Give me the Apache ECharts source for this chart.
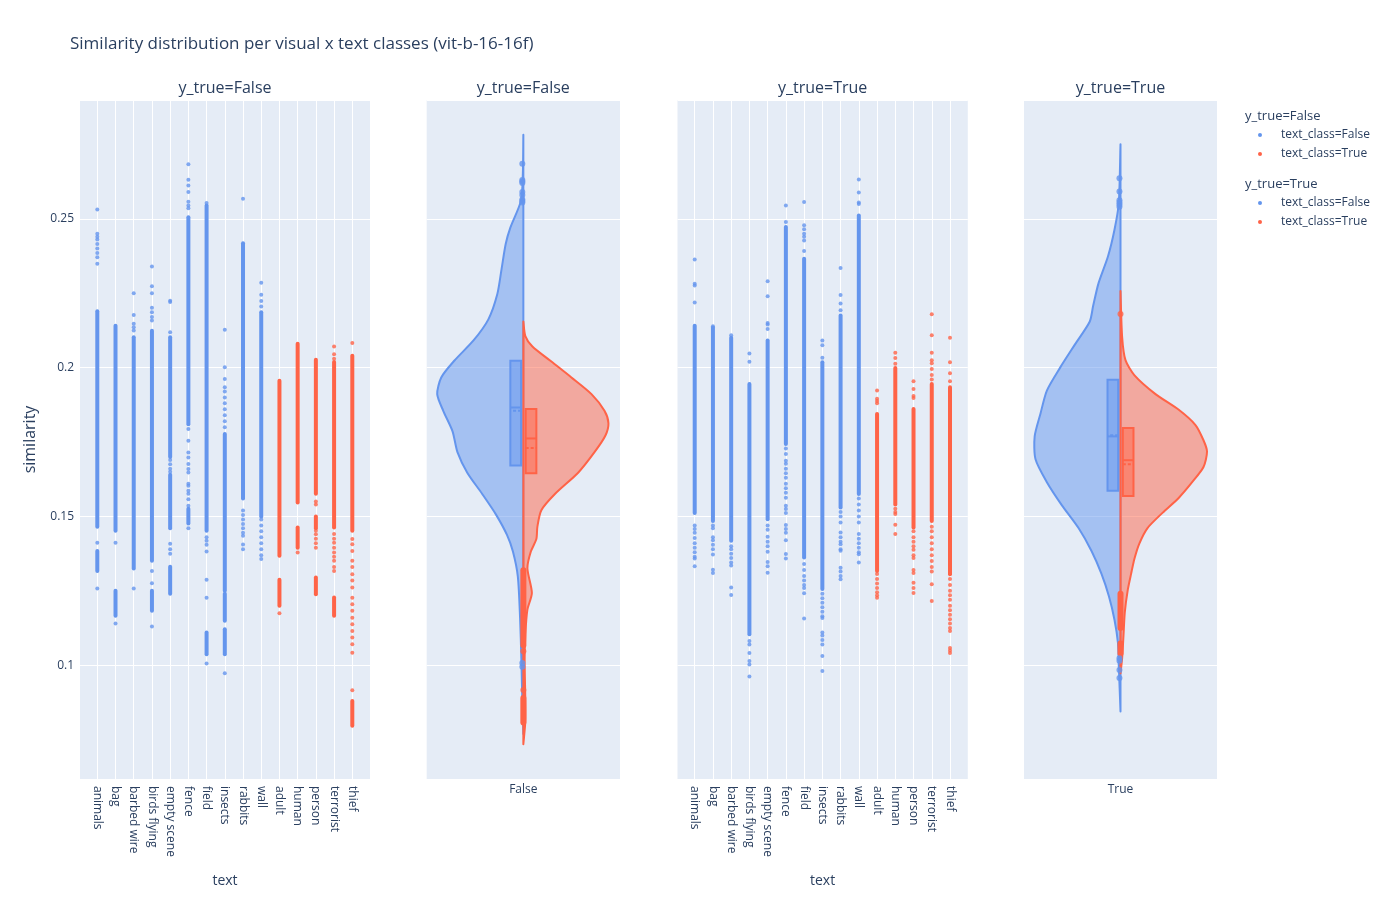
<!DOCTYPE html>
<html>
<head>
<meta charset="utf-8">
<title>Similarity distribution per visual x text classes</title>
<script src="https://cdn.jsdelivr.net/npm/echarts@6/dist/echarts.min.js"></script>
<style>
  html, body { margin: 0; padding: 0; background: #fff; }
  #chart { width: 1400px; height: 900px; }
</style>
</head>
<body>
<div id="chart"></div>
<script>
// ---- data ----
const categories = ['animals', 'bag', 'barbed wire', 'birds flying', 'empty scene', 'fence', 'field',
  'insects', 'rabbits', 'wall', 'adult', 'human', 'person', 'terrorist', 'thief'];
const textClass = [false, false, false, false, false, false, false, false, false, false,
  true, true, true, true, true];

// y_true=False strips: dense stretches [lo, hi] and single points, per category
const segFalse = [
  [[0.1465, 0.2189], [0.1317, 0.1384]],
  [[0.1452, 0.2141], [0.1166, 0.1250]],
  [[0.1325, 0.2102]],
  [[0.1351, 0.2124], [0.1183, 0.1250]],
  [[0.1700, 0.2102], [0.1460, 0.1640], [0.1240, 0.1331]],
  [[0.1810, 0.2505], [0.1476, 0.1526]],
  [[0.1452, 0.2545], [0.1037, 0.1110]],
  [[0.1250, 0.1777], [0.1150, 0.1240], [0.1037, 0.1121]],
  [[0.1560, 0.2418]],
  [[0.1500, 0.2186]],
  [[0.1368, 0.1956], [0.1200, 0.1287]],
  [[0.1547, 0.2080], [0.1395, 0.1463]],
  [[0.1576, 0.2026], [0.1460, 0.1500], [0.1239, 0.1295]],
  [[0.1463, 0.2019], [0.1166, 0.1228]],
  [[0.1452, 0.2040], [0.0797, 0.0880]]
];
const ptsFalse = [
  [0.2531, 0.2450, 0.2440, 0.2430, 0.2415, 0.2400, 0.2385, 0.2371, 0.2349, 0.1412, 0.1258],
  [0.1412, 0.1140],
  [0.2250, 0.2177, 0.2147, 0.2136, 0.2125, 0.1258],
  [0.2340, 0.2273, 0.2250, 0.2201, 0.2186, 0.2170, 0.2158, 0.1317, 0.1276, 0.1130],
  [0.2225, 0.2220, 0.2119, 0.1690, 0.1675, 0.1660, 0.1650, 0.1408, 0.1390, 0.1375],
  [0.2683, 0.2631, 0.2612, 0.2590, 0.2557, 0.2545, 0.2535, 0.1794, 0.1754, 0.1715, 0.1698,
   0.1676, 0.1659, 0.1648, 0.1610, 0.1603, 0.1586, 0.1576, 0.1558, 0.1536, 0.1460],
  [0.2553, 0.1430, 0.1418, 0.1405, 0.1382, 0.1287, 0.1227, 0.1006],
  [0.2127, 0.2001, 0.1962, 0.1934, 0.1920, 0.1900, 0.1880, 0.1860, 0.1840, 0.1820, 0.1800, 0.0973],
  [0.2567, 0.1520, 0.1505, 0.1490, 0.1475, 0.1460, 0.1445, 0.1435, 0.1406, 0.1390],
  [0.2285, 0.2245, 0.2224, 0.2205, 0.1490, 0.1470, 0.1450, 0.1430, 0.1410, 0.1390, 0.1370, 0.1357],
  [0.1175],
  [0.1379],
  [0.1550, 0.1540, 0.1452, 0.1440, 0.1425, 0.1410, 0.1395],
  [0.2071, 0.2045, 0.2030, 0.1441, 0.1425, 0.1412, 0.1395, 0.1379, 0.1365, 0.1351, 0.1330, 0.1317],
  [0.2083, 0.1424, 0.1407, 0.1384, 0.1351, 0.1330, 0.1306, 0.1285, 0.1261, 0.1227, 0.1205,
   0.1183, 0.1160, 0.1138, 0.1115, 0.1093, 0.1071, 0.1042, 0.0916]
];

// y_true=True strips
const segTrue = [
  [[0.1512, 0.2141]],
  [[0.1485, 0.2135]],
  [[0.1418, 0.2100]],
  [[0.1104, 0.1945]],
  [[0.1491, 0.2091]],
  [[0.1743, 0.2472]],
  [[0.1362, 0.2366]],
  [[0.1256, 0.2018]],
  [[0.1530, 0.2175]],
  [[0.1575, 0.2511]],
  [[0.1317, 0.1844]],
  [[0.1540, 0.1999]],
  [[0.1463, 0.1861]],
  [[0.1485, 0.1945]],
  [[0.1306, 0.1934]]
];
const ptsTrue = [
  [0.2363, 0.2282, 0.2276, 0.2219, 0.1470, 0.1458, 0.1445, 0.1428, 0.1410, 0.1395, 0.1380, 0.1365, 0.1359, 0.1333],
  [0.2139, 0.1470, 0.1460, 0.1430, 0.1420, 0.1405, 0.1390, 0.1372, 0.1321, 0.1310],
  [0.2109, 0.1400, 0.1390, 0.1375, 0.1360, 0.1345, 0.1335, 0.1261, 0.1236],
  [0.2047, 0.2020, 0.1082, 0.1070, 0.1041, 0.1014, 0.1003, 0.0962],
  [0.2290, 0.2240, 0.2150, 0.2145, 0.2130, 0.1470, 0.1455, 0.1432, 0.1415, 0.1400, 0.1381, 0.1347, 0.1333, 0.1311],
  [0.2545, 0.2489, 0.1728, 0.1710, 0.1687, 0.1677, 0.1660, 0.1645, 0.1630, 0.1610, 0.1595, 0.1580,
   0.1563, 0.1536, 0.1525, 0.1512, 0.1471, 0.1458, 0.1445, 0.1420, 0.1374, 0.1359],
  [0.2556, 0.2478, 0.2465, 0.2450, 0.2440, 0.2427, 0.2392, 0.1340, 0.1320, 0.1300, 0.1285, 0.1270, 0.1260, 0.1242, 0.1157],
  [0.2091, 0.2075, 0.2033, 0.1240, 0.1225, 0.1210, 0.1195, 0.1180, 0.1165, 0.1159, 0.1110, 0.1100, 0.1085, 0.1070, 0.1031, 0.0981],
  [0.2335, 0.2244, 0.2215, 0.2193, 0.1515, 0.1500, 0.1480, 0.1446, 0.1430, 0.1415, 0.1407, 0.1390, 0.1385, 0.1328, 0.1315, 0.1300, 0.1289],
  [0.2632, 0.2588, 0.2555, 0.2550, 0.1560, 0.1540, 0.1520, 0.1500, 0.1480, 0.1441, 0.1425, 0.1410, 0.1395, 0.1380, 0.1373, 0.1345],
  [0.1923, 0.1895, 0.1888, 0.1880, 0.1307, 0.1290, 0.1275, 0.1260, 0.1245, 0.1235, 0.1227],
  [0.2050, 0.2032, 0.2013, 0.1526, 0.1515, 0.1508, 0.1472, 0.1441],
  [0.1954, 0.1928, 0.1905, 0.1898, 0.1450, 0.1430, 0.1415, 0.1400, 0.1388, 0.1370, 0.1360, 0.1320, 0.1310, 0.1277, 0.1260, 0.1243],
  [0.2179, 0.2109, 0.2050, 0.2025, 0.2015, 0.1995, 0.1975, 0.1960, 0.1465, 0.1450, 0.1430, 0.1410,
   0.1390, 0.1370, 0.1350, 0.1330, 0.1315, 0.1272, 0.1216],
  [0.2100, 0.2018, 0.1981, 0.1954, 0.1290, 0.1270, 0.1250, 0.1235, 0.1220, 0.1200, 0.1185, 0.1170,
   0.1155, 0.1140, 0.1125, 0.1115, 0.1058, 0.1050, 0.1041]
];

// split violins: [similarity, relative density]
const vioFalseBlue = [[0.2782, 0], [0.2650, 0.006], [0.2561, 0.027], [0.2470, 0.151], [0.2415, 0.205],
  [0.2331, 0.253], [0.2247, 0.302], [0.2162, 0.406], [0.2092, 0.576], [0.2023, 0.802], [0.1967, 0.953],
  [0.1911, 1.0], [0.1855, 0.930], [0.1786, 0.822], [0.1716, 0.765], [0.1647, 0.651], [0.1577, 0.481],
  [0.1507, 0.319], [0.1438, 0.190], [0.1382, 0.121], [0.1298, 0.064], [0.1159, 0.038], [0.1019, 0.023],
  [0.0880, 0.012], [0.0769, 0]];
const vioFalseRed = [[0.2155, 0], [0.2106, 0.023], [0.2071, 0.105], [0.2023, 0.314], [0.1967, 0.558],
  [0.1911, 0.791], [0.1855, 0.942], [0.1813, 0.988], [0.1772, 0.953], [0.1716, 0.826], [0.1647, 0.636],
  [0.1577, 0.372], [0.1521, 0.209], [0.1466, 0.163], [0.1424, 0.151], [0.1382, 0.087], [0.1326, 0.047],
  [0.1243, 0.099], [0.1187, 0.047], [0.1104, 0.023], [0.1020, 0.015], [0.0880, 0.023], [0.0811, 0.023],
  [0.0735, 0]];
const vioTrueBlue = [[0.2750, 0], [0.2553, 0.020], [0.2463, 0.070], [0.2374, 0.145], [0.2283, 0.256],
  [0.2206, 0.319], [0.2155, 0.357], [0.2078, 0.529], [0.2000, 0.702], [0.1923, 0.856], [0.1846, 0.930],
  [0.1769, 0.998], [0.1692, 0.988], [0.1615, 0.856], [0.1538, 0.683], [0.1461, 0.488], [0.1384, 0.337],
  [0.1307, 0.221], [0.1231, 0.134], [0.1153, 0.070], [0.1076, 0.030], [0.0999, 0.020], [0.0845, 0]];
const vioTrueRed = [[0.2257, 0], [0.2103, 0.019], [0.2025, 0.058], [0.1974, 0.163], [0.1911, 0.407],
  [0.1859, 0.674], [0.1807, 0.872], [0.1756, 0.965], [0.1718, 1.006], [0.1666, 0.965], [0.1615, 0.833],
  [0.1563, 0.679], [0.1512, 0.488], [0.1461, 0.314], [0.1409, 0.219], [0.1358, 0.162], [0.1307, 0.123],
  [0.1254, 0.085], [0.1178, 0.050], [0.1101, 0.035], [0.1024, 0.019], [0.0973, 0]];

// inner boxes: q1, median, q3, mean
const boxFalseBlue = [0.1671, 0.1866, 0.2023, 0.1855];
const boxFalseRed = [0.1645, 0.1762, 0.1861, 0.1730];
const boxTrueBlue = [0.1586, 0.1769, 0.1959, 0.1773];
const boxTrueRed = [0.1569, 0.1689, 0.1797, 0.1675];

// violin outliers
const outFalseBlue = [0.2685, 0.2630, 0.2625, 0.2620, 0.2590, 0.2580, 0.2565, 0.2560, 0.2555, 0.1008, 0.0995];
const outFalseRed = [0.1047, 0.0917];
const outFalseRedSeg = [[0.1067, 0.1319], [0.0808, 0.0890]];
const outTrueBlue = [0.2636, 0.2592, 0.2562, 0.2555, 0.2548, 0.2540, 0.1024, 0.1015, 0.0984, 0.0957];
const outTrueRed = [0.2180];
const outTrueRedSeg = [[0.1125, 0.1240], [0.1040, 0.1073]];

// ---- styling ----
const BLUE = '#6495ED';
const RED = '#FF6347';
const BLUE_FILL = 'rgba(100,149,237,0.5)';
const RED_FILL = 'rgba(255,99,71,0.5)';
const INK = '#2a3f5f';
const FONT = '"Open Sans", "Liberation Sans", sans-serif';
const YMIN = 0.0618, YMAX = 0.2899;
const TOP = 100, H = 679;
const VHALF = 1.122; // half panel width in density units

function yAxis(grid, labels) {
  return {
    type: 'value', gridIndex: grid, min: YMIN, max: YMAX, splitNumber: 5,
    minInterval: 0.05, maxInterval: 0.05,
    axisLine: {show: false}, axisTick: {show: false},
    splitLine: {show: true, lineStyle: {color: '#fff', width: 1}},
    axisLabel: {show: labels, color: INK, fontSize: 12, fontFamily: FONT, margin: 6,
      showMinLabel: false, showMaxLabel: false}
  };
}

function stripSeries(axis, segs, pts, cls) {
  const color = cls ? RED : BLUE;
  const segData = [], ptData = [];
  categories.forEach((c, i) => {
    if (textClass[i] !== cls) return;
    segs[i].forEach(s => segData.push([i, s[0], s[1]]));
    pts[i].forEach(v => ptData.push([i, v]));
  });
  return [
    {
      type: 'custom', xAxisIndex: axis, yAxisIndex: axis, data: segData, silent: true,
      encode: {x: 0, y: [1, 2]},
      renderItem: (params, api) => {
        const lo = api.coord([api.value(0), api.value(1)]);
        const hi = api.coord([api.value(0), api.value(2)]);
        return {type: 'rect', shape: {x: lo[0] - 2, y: hi[1] - 2, width: 4, height: lo[1] - hi[1] + 4, r: 2},
          style: {fill: color}};
      }
    },
    {
      type: 'scatter', xAxisIndex: axis, yAxisIndex: axis, data: ptData, silent: true,
      symbolSize: 4, itemStyle: {color: color}
    }
  ];
}

function violinSeries(axis, dens, side, color, fill) {
  return {
    type: 'custom', xAxisIndex: axis, yAxisIndex: axis, silent: true, z: 2,
    data: [[0, dens[0][0]]],
    renderItem: (params, api) => {
      const pts = dens.map(d => api.coord([side * d[1], d[0]]));
      pts.push(api.coord([0, dens[dens.length - 1][0]]));
      pts.push(api.coord([0, dens[0][0]]));
      return {type: 'polygon', shape: {points: pts, smooth: 0.25},
        style: {fill: fill, stroke: color, lineWidth: 2, lineJoin: 'round'}};
    }
  };
}

function boxSeries(axis, box, side, color, fill) {
  const inner = 0.027 * side, outer = 0.151 * side;
  return {
    type: 'custom', xAxisIndex: axis, yAxisIndex: axis, silent: true, z: 3,
    data: [[0, box[1]]],
    renderItem: (params, api) => {
      const a = api.coord([inner, box[2]]), b = api.coord([outer, box[0]]);
      const m0 = api.coord([inner, box[1]]), m1 = api.coord([outer, box[1]]);
      const u0 = api.coord([inner, box[3]]), u1 = api.coord([outer, box[3]]);
      return {type: 'group', children: [
        {type: 'rect', shape: {x: Math.min(a[0], b[0]), y: a[1], width: Math.abs(b[0] - a[0]), height: b[1] - a[1]},
          style: {fill: fill, stroke: color, lineWidth: 2}},
        {type: 'line', shape: {x1: m0[0], y1: m0[1], x2: m1[0], y2: m1[1]}, style: {stroke: color, lineWidth: 2}},
        {type: 'line', shape: {x1: u0[0], y1: u0[1], x2: u1[0], y2: u1[1]},
          style: {stroke: color, lineWidth: 2, lineDash: [3, 2]}}
      ]};
    }
  };
}

function outlierSeries(axis, pts, segs, offset, color) {
  const out = [{
    type: 'scatter', xAxisIndex: axis, yAxisIndex: axis, silent: true, z: 4,
    data: pts.map(v => [offset, v]), symbolSize: 6, itemStyle: {color: color}
  }];
  if (segs.length) {
    out.push({
      type: 'custom', xAxisIndex: axis, yAxisIndex: axis, silent: true, z: 4,
      data: segs.map(s => [offset, s[0], s[1]]), encode: {x: 0, y: [1, 2]},
      renderItem: (params, api) => {
        const lo = api.coord([api.value(0), api.value(1)]);
        const hi = api.coord([api.value(0), api.value(2)]);
        return {type: 'rect', shape: {x: lo[0] - 3, y: hi[1] - 3, width: 6, height: lo[1] - hi[1] + 6, r: 3},
          style: {fill: color}};
      }
    });
  }
  return out;
}

function violinXAxis(grid, name) {
  return {
    type: 'value', gridIndex: grid, min: -VHALF, max: VHALF,
    axisLine: {show: false}, axisTick: {show: false}, splitLine: {show: false},
    axisLabel: {color: INK, fontSize: 12, fontFamily: FONT, margin: 5,
      showMinLabel: false, showMaxLabel: false,
      formatter: v => (Math.abs(v) < 1e-9 ? name : '')}
  };
}

function catXAxis(grid) {
  return {
    type: 'category', gridIndex: grid, data: categories, boundaryGap: false,
    axisLine: {show: false}, axisTick: {show: false},
    splitLine: {show: true, lineStyle: {color: '#fff', width: 1}},
    axisLabel: {rotate: -90, interval: 0, color: INK, fontSize: 12, fontFamily: FONT, margin: 7}
  };
}

const hidden = grid => ({type: 'value', gridIndex: grid, show: false, min: 0, max: 1});

function txt(x, y, text, size, extra) {
  return Object.assign({type: 'text', x: x, y: y, silent: true,
    style: {text: text, fill: INK, font: size + 'px ' + FONT, align: 'center', verticalAlign: 'middle'}}, extra || {});
}

const legendItems = [
  {y: 116, text: 'y_true=False', head: true},
  {y: 135, text: 'text_class=False', color: BLUE},
  {y: 154, text: 'text_class=True', color: RED},
  {y: 184, text: 'y_true=True', head: true},
  {y: 203, text: 'text_class=False', color: BLUE},
  {y: 222, text: 'text_class=True', color: RED}
];
const legendGraphics = [];
legendItems.forEach(it => {
  if (it.head) {
    legendGraphics.push({type: 'text', x: 1245, y: it.y, silent: true,
      style: {text: it.text, fill: INK, font: '13px ' + FONT, align: 'left', verticalAlign: 'middle'}});
  } else {
    legendGraphics.push({type: 'circle', silent: true, shape: {cx: 1260, cy: it.y, r: 2}, style: {fill: it.color}});
    legendGraphics.push({type: 'text', x: 1281, y: it.y, silent: true,
      style: {text: it.text, fill: INK, font: '12px ' + FONT, align: 'left', verticalAlign: 'middle'}});
  }
});

const chart = echarts.init(document.getElementById('chart'));
chart.setOption({
  animation: false,
  backgroundColor: '#fff',
  grid: [
    {left: 80, top: TOP, width: 290, height: H, show: true, backgroundColor: '#E5ECF6', borderWidth: 0},
    {left: 97.3, top: TOP, width: 255, height: H, show: false},
    {left: 426.7, top: TOP, width: 193.3, height: H, show: true, backgroundColor: '#E5ECF6', borderWidth: 0},
    {left: 677.5, top: TOP, width: 290.3, height: H, show: true, backgroundColor: '#E5ECF6', borderWidth: 0},
    {left: 694.7, top: TOP, width: 255.3, height: H, show: false},
    {left: 1024, top: TOP, width: 193, height: H, show: true, backgroundColor: '#E5ECF6', borderWidth: 0}
  ],
  xAxis: [hidden(0), catXAxis(1), violinXAxis(2, 'False'), hidden(3), catXAxis(4), violinXAxis(5, 'True')],
  yAxis: [yAxis(0, true), Object.assign(yAxis(1, false), {show: false}), yAxis(2, false),
    yAxis(3, false), Object.assign(yAxis(4, false), {show: false}), yAxis(5, false)],
  series: [
    ...stripSeries(1, segFalse, ptsFalse, false),
    ...stripSeries(1, segFalse, ptsFalse, true),
    violinSeries(2, vioFalseBlue, -1, BLUE, BLUE_FILL),
    violinSeries(2, vioFalseRed, 1, RED, RED_FILL),
    boxSeries(2, boxFalseBlue, -1, BLUE, BLUE_FILL),
    boxSeries(2, boxFalseRed, 1, RED, RED_FILL),
    ...outlierSeries(2, outFalseBlue, [], -0.012, BLUE),
    ...outlierSeries(2, outFalseRed, outFalseRedSeg, 0, RED),
    ...stripSeries(4, segTrue, ptsTrue, false),
    ...stripSeries(4, segTrue, ptsTrue, true),
    violinSeries(5, vioTrueBlue, -1, BLUE, BLUE_FILL),
    violinSeries(5, vioTrueRed, 1, RED, RED_FILL),
    boxSeries(5, boxTrueBlue, -1, BLUE, BLUE_FILL),
    boxSeries(5, boxTrueRed, 1, RED, RED_FILL),
    ...outlierSeries(5, outTrueBlue, [], -0.012, BLUE),
    ...outlierSeries(5, outTrueRed, outTrueRedSeg, 0, RED)
  ],
  graphic: [
    {type: 'text', x: 70, y: 44, silent: true,
      style: {text: 'Similarity distribution per visual x text classes (vit-b-16-16f)', fill: INK,
        font: '17px ' + FONT, align: 'left', verticalAlign: 'middle'}},
    txt(225, 88, 'y_true=False', 16),
    txt(523.3, 88, 'y_true=False', 16),
    txt(822.6, 88, 'y_true=True', 16),
    txt(1120.5, 88, 'y_true=True', 16),
    txt(30, 439.5, 'similarity', 16, {rotation: Math.PI / 2}),
    txt(225, 881, 'text', 14),
    txt(822.6, 881, 'text', 14),
    ...legendGraphics
  ]
});
</script>
</body>
</html>
